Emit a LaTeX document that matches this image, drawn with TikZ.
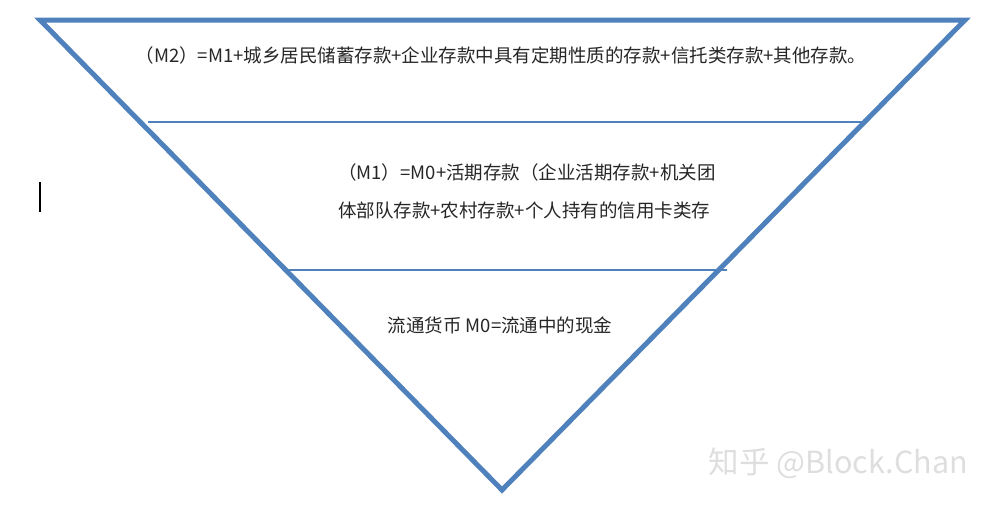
\documentclass[tikz,border=0pt]{standalone}
\usepackage{fontspec}
\setmainfont{Noto Sans CJK SC}
\usetikzlibrary{positioning}
\definecolor{funnelblue}{HTML}{4F81BD}
\definecolor{textgray}{HTML}{262626}

\begin{document}
\begin{tikzpicture}[
    x=1pt, y=-1pt,
    font=\fontsize{18.5}{38}\selectfont,
    edge/.style={line width=5pt, draw=funnelblue, line join=miter},
    divider/.style={line width=2.5pt, draw=funnelblue},
    label/.style={text=textgray, inner sep=0pt},
    watermark/.style={text=black!13, inner sep=0pt, font=\fontsize{30.5}{32}\selectfont}
]
\useasboundingbox (0,0) rectangle (994,506);

\coordinate (topleft) at (40,20);
\coordinate (topright) at (965,20);
\coordinate (apex) at (502,490);
\draw[edge] (topleft) -- (topright) -- (apex) -- cycle;

\coordinate (m2left) at (148,122);
\coordinate (m2right) at (862,122);
\draw[divider] (m2left) -- (m2right);
\coordinate (m1left) at (288,270);
\coordinate (m1right) at (727,270);
\draw[divider] (m1left) -- (m1right);

\node[label] (m2) at (501,55) {（M2）=M1+城乡居民储蓄存款+企业存款中具有定期性质的存款+信托类存款+其他存款。};
\node[label, align=left, anchor=west] (m1) at (338,191) {（M1）=M0+活期存款（企业活期存款+机关团\\体部队存款+农村存款+个人持有的信用卡类存};
\node[label] (m0) at (500,325) {流通货币 M0=流通中的现金};

\coordinate (cursortop) at (40,182);
\coordinate (cursorbottom) at (40,212);
\draw[line width=2pt] (cursortop) -- (cursorbottom);

\node[watermark, anchor=east] (credit) at (968,463) {知乎 @Block.Chan};
\end{tikzpicture}
\end{document}
